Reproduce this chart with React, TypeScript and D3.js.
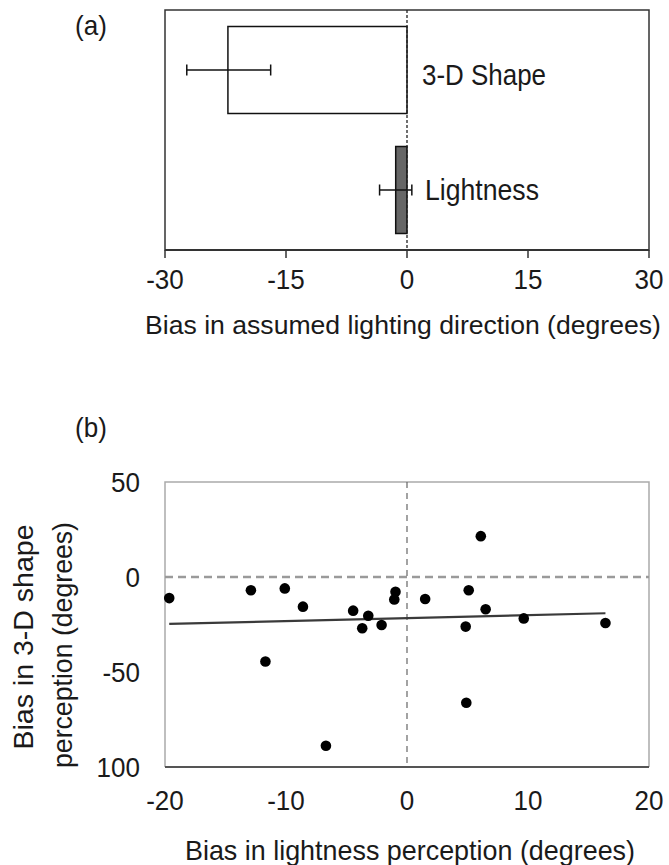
import * as d3 from "d3";

// panel (a): mean bias in assumed lighting direction
const barCategories = ["3-D Shape", "Lightness"];
const barValues = [-22.2, -1.4];
const barErrLow = [-27.3, -3.4];
const barErrHigh = [-16.9, 0.6];
const barFills = ["#ffffff", "#666666"];
const barTicks = [-30, -15, 0, 15, 30];

// panel (b): per-observer biases
const lightBias = [
  -19.65, -12.9, -10.1, -8.6, -11.7, -4.45, -3.2, -3.7, -2.1, -0.95,
  -1.05, -6.7, 1.5, 6.1, 5.1, 6.5, 4.85, 4.9, 9.65, 16.4,
];
const shapeBias = [
  -11.1, -7.0, -6.0, -15.6, -44.5, -17.7, -20.4, -27.0, -25.3, -7.8,
  -11.8, -88.8, -11.6, 21.5, -7.0, -17.0, -26.1, -66.2, -21.8, -24.2,
];
const trendSlope = 0.156;
const trendIntercept = -21.65;
const xTicksB = [-20, -10, 0, 10, 20];
const yTicksB = [50, 0, -50, -100];
const yTickLabelsB = ["50", "0", "-50", "100"];

const FONT = "'Liberation Sans', Arial, sans-serif";
const TXT = "#1a1a1a";

const LEFT = 165;
const RIGHT = 649;

// text squeezed a bit horizontally, like the source figure
function Label(props: {
  x: number;
  y: number;
  size: number;
  anchor?: string;
  sx?: number;
  children: string | number;
}) {
  const sx = props.sx ?? 0.93;
  return (
    <text
      transform={`translate(${props.x},${props.y}) scale(${sx},1)`}
      textAnchor={props.anchor ?? "start"}
      fontSize={props.size}
      fill={TXT}
      fontFamily={FONT}
    >
      {props.children}
    </text>
  );
}

function PanelA() {
  const top = 10;
  const bottom = 250;
  const x = d3.scaleLinear().domain([-30, 30]).range([LEFT, RIGHT]);
  const y = d3
    .scaleBand()
    .domain(barCategories)
    .range([top, bottom])
    .paddingInner(0.275)
    .paddingOuter(0.1375);
  const bw = y.bandwidth();
  const labelDy = [15, 10];
  const labelW = [124, 114];

  return (
    <g>
      <Label x={75} y={35} size={28}>
        (a)
      </Label>
      <rect
        x={LEFT}
        y={top}
        width={RIGHT - LEFT}
        height={bottom - top}
        fill="none"
        stroke="#333"
        strokeWidth={1.5}
      />
      {barCategories.map((c, i) => {
        const y0 = y(c)!;
        const cy = y0 + bw / 2;
        const x0 = Math.min(x(barValues[i]), x(0));
        return (
          <g key={c}>
            <rect
              x={x0}
              y={y0}
              width={Math.abs(x(barValues[i]) - x(0))}
              height={bw}
              fill={barFills[i]}
              stroke="#111"
              strokeWidth={1.5}
            />
            <line x1={x(barErrLow[i])} x2={x(barErrHigh[i])} y1={cy} y2={cy} stroke="#111" strokeWidth={1.5} />
            <line x1={x(barErrLow[i])} x2={x(barErrLow[i])} y1={cy - 5.5} y2={cy + 5.5} stroke="#111" strokeWidth={1.5} />
            <line x1={x(barErrHigh[i])} x2={x(barErrHigh[i])} y1={cy - 5.5} y2={cy + 5.5} stroke="#111" strokeWidth={1.5} />
            <text
              x={x(0) + 15 + i * 3}
              y={cy + labelDy[i]}
              fontSize={29}
              fill={TXT}
              fontFamily={FONT}
              textLength={labelW[i]}
              lengthAdjust="spacingAndGlyphs"
            >
              {c}
            </text>
          </g>
        );
      })}
      <line
        x1={x(0)}
        x2={x(0)}
        y1={top}
        y2={bottom}
        stroke="#222"
        strokeWidth={1.3}
        strokeDasharray="3,2"
      />
      <line x1={LEFT} x2={RIGHT} y1={bottom} y2={bottom} stroke="#333" strokeWidth={2} />
      {barTicks.map((t) => (
        <g key={t}>
          <line x1={x(t)} x2={x(t)} y1={bottom} y2={bottom + 8} stroke="#333" strokeWidth={1.5} />
          <Label x={x(t)} y={289} size={28} anchor="middle">
            {t}
          </Label>
        </g>
      ))}
      <text
        x={403}
        y={334}
        textAnchor="middle"
        fontSize={26.6}
        fill={TXT}
        fontFamily={FONT}
      >
        Bias in assumed lighting direction (degrees)
      </text>
    </g>
  );
}

function PanelB() {
  const top = 482;
  const bottom = 767;
  const x = d3.scaleLinear().domain([-20, 20]).range([LEFT, RIGHT]);
  const y = d3.scaleLinear().domain([-100, 50]).range([bottom, top]);
  const [xmin, xmax] = d3.extent(lightBias) as [number, number];
  const trend = d3
    .line<number>()
    .x((d) => x(d))
    .y((d) => y(trendSlope * d + trendIntercept));

  return (
    <g>
      <Label x={75} y={437} size={28}>
        (b)
      </Label>
      <path
        d={`M${LEFT},${bottom}V${top}H${RIGHT}V${bottom}`}
        fill="none"
        stroke="#aaa"
        strokeWidth={1.5}
      />
      <line
        x1={LEFT}
        x2={RIGHT}
        y1={y(0)}
        y2={y(0)}
        stroke="#9a9a9a"
        strokeWidth={2.5}
        strokeDasharray="8,5"
      />
      <line
        x1={x(0)}
        x2={x(0)}
        y1={top}
        y2={bottom}
        stroke="#666"
        strokeWidth={1.2}
        strokeDasharray="6,5"
      />
      <line x1={LEFT} x2={RIGHT} y1={bottom} y2={bottom} stroke="#555" strokeWidth={2} />
      <path d={trend([xmin, xmax])!} fill="none" stroke="#3a3a3a" strokeWidth={2.2} />
      {lightBias.map((v, i) => (
        <circle key={i} cx={x(v)} cy={y(shapeBias[i])} r={5.3} fill="#000" />
      ))}
      {yTicksB.map((t, i) => (
        <Label key={t} x={140} y={y(t) + 10} size={28} anchor="end">
          {yTickLabelsB[i]}
        </Label>
      ))}
      {xTicksB.map((t) => (
        <Label key={t} x={x(t)} y={810} size={28} anchor="middle">
          {t}
        </Label>
      ))}
      <text
        x={410}
        y={860}
        textAnchor="middle"
        fontSize={28}
        fill={TXT}
        fontFamily={FONT}
        textLength={450}
        lengthAdjust="spacingAndGlyphs"
      >
        Bias in lightness perception (degrees)
      </text>
      <text
        transform="translate(33,637) rotate(-90)"
        textAnchor="middle"
        fontSize={28}
        fill={TXT}
        fontFamily={FONT}
        textLength={225}
        lengthAdjust="spacingAndGlyphs"
      >
        Bias in 3-D shape
      </text>
      <text
        transform="translate(72,645) rotate(-90)"
        textAnchor="middle"
        fontSize={28}
        fill={TXT}
        fontFamily={FONT}
        textLength={246}
        lengthAdjust="spacingAndGlyphs"
      >
        perception (degrees)
      </text>
    </g>
  );
}

export default function App() {
  return (
    <svg
      width={669}
      height={865}
      style={{ position: "absolute", left: 0, top: 0, background: "#fff" }}
    >
      <PanelA />
      <PanelB />
    </svg>
  );
}
